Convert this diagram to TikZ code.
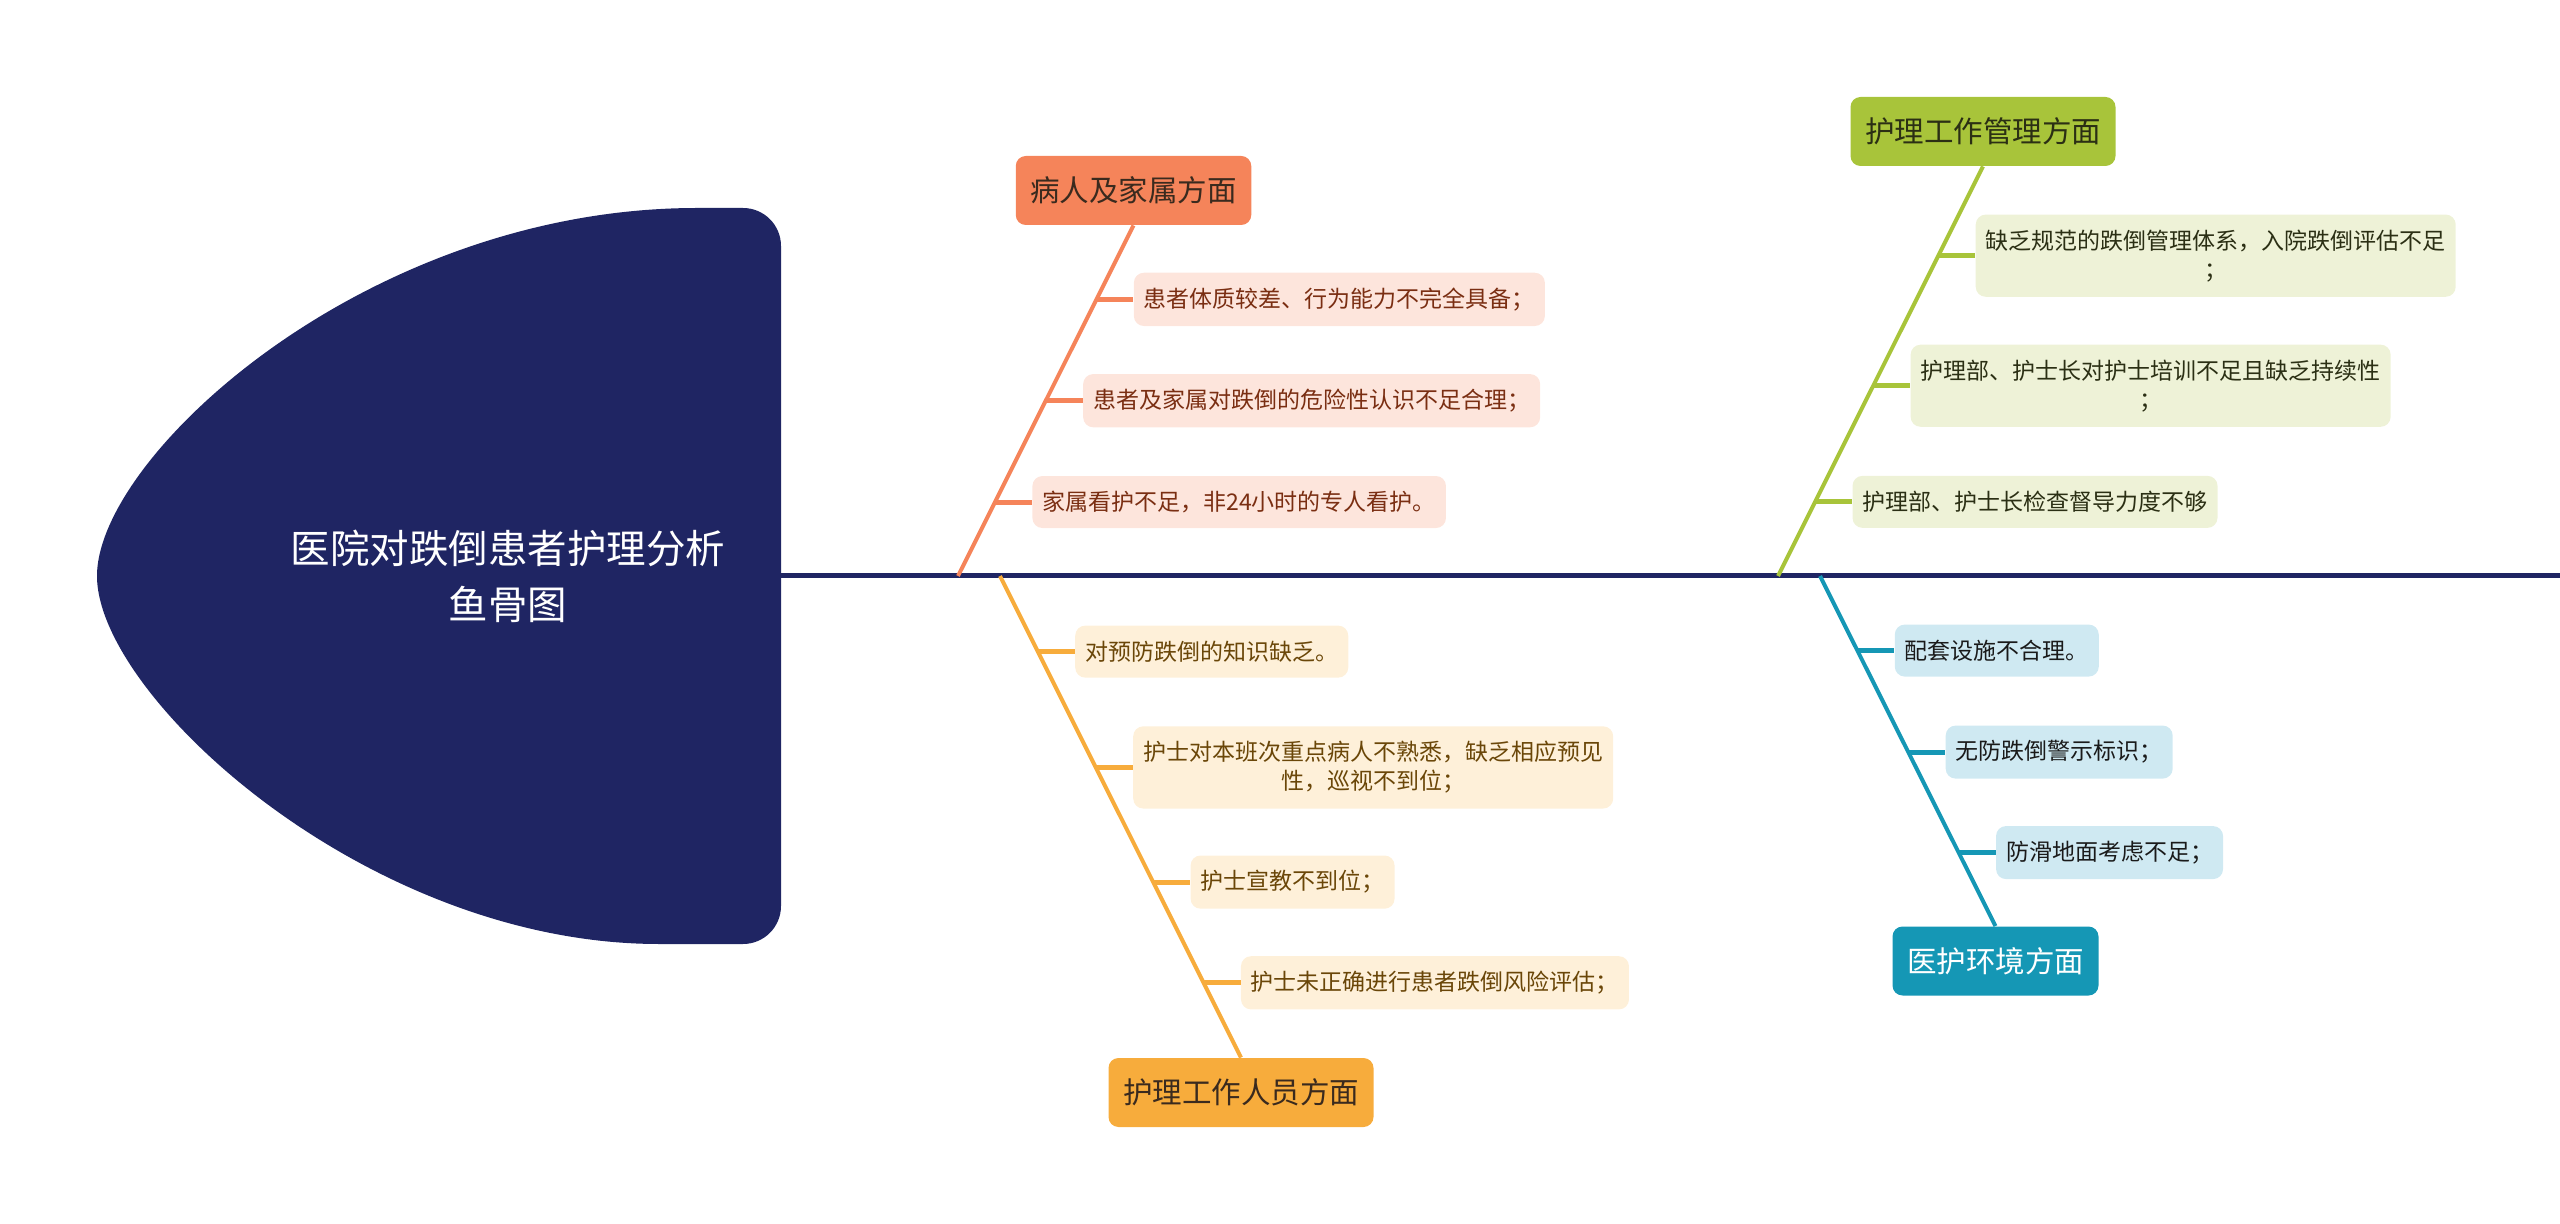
\documentclass[tikz,border=0pt]{standalone}
\usepackage{fontspec}
\usepackage{tikz}
\usetikzlibrary{positioning}
\usetikzlibrary{calc}
\setmainfont{Noto Sans CJK SC}

\definecolor{navy}{HTML}{1F2563}
\definecolor{hdcoral}{HTML}{F5845A}
\definecolor{bgcoral}{HTML}{FDE5DC}
\definecolor{txcoral}{HTML}{7A2E12}
\definecolor{hdamber}{HTML}{F7AC3C}
\definecolor{bgamber}{HTML}{FEF0D9}
\definecolor{txamber}{HTML}{6A4608}
\definecolor{hdgreen}{HTML}{A8C43A}
\definecolor{bggreen}{HTML}{EEF2D7}
\definecolor{txgreen}{HTML}{2B2F14}
\definecolor{hdteal}{HTML}{1597B5}
\definecolor{bgteal}{HTML}{CFE9F2}
\definecolor{txteal}{HTML}{1A1A1A}
\definecolor{txdark}{HTML}{3A2A1E}

\tikzset{
  cause/.style={rounded corners=5pt, minimum height=34.5pt, inner xsep=7.25pt, font=\fontsize{14.75}{18}\selectfont},
  detail/.style={rounded corners=5pt, minimum height=26pt, inner xsep=5pt, inner ysep=7.5pt, align=center, font=\fontsize{11.5}{14.5}\selectfont},
  bone/.style={line width=2pt},
  stub/.style={line width=2.5pt}
}

\begin{document}
\begin{tikzpicture}[x=0.5pt,y=-0.5pt]
\useasboundingbox (0,0) rectangle (2560,1224);

\fill[navy] (97,576) .. controls (97,456) and (367,208) .. (697,208) [rounded corners=19pt] -- (781,208) -- (781,944) -- (697,944) [sharp corners] .. controls (367,944) and (97,696) .. (97,576) -- cycle;
\node[text=white, align=center, font=\fontsize{19.75}{28}\selectfont] (title) at (508,576) {医院对跌倒患者护理分析\\鱼骨图};

\coordinate (neck) at (781,576);
\coordinate (tail) at (2560,576);
\draw[navy, line width=2.5pt] (neck) -- (tail);

\node[cause, fill=hdcoral, text=txdark] (c1) at (1133.5,190.5) {病人及家属方面};
\node[cause, fill=hdamber, text=txdark] (c2) at (1241,1092.5) {护理工作人员方面};
\node[cause, fill=hdgreen, text=txgreen] (c3) at (1983,131.5) {护理工作管理方面};
\node[cause, fill=hdteal, text=white] (c4) at (1995.5,961) {医护环境方面};

\coordinate (s1) at (958,576);
\coordinate (s2) at (1000,576);
\coordinate (s3) at (1778,576);
\coordinate (s4) at (1820,576);
\draw[bone, hdcoral] (c1.south) -- (s1);
\draw[bone, hdamber] (c2.north) -- (s2);
\draw[bone, hdgreen] (c3.south) -- (s3);
\draw[bone, hdteal] (c4.north) -- (s4);

\coordinate (b11) at ($(s1)!0.789!(c1.south)$);
\coordinate (b12) at ($(s1)!0.5!(c1.south)$);
\coordinate (b13) at ($(s1)!0.211!(c1.south)$);
\node[detail, fill=bgcoral, text=txcoral, right=18.5pt of b11] (d11) {患者体质较差、行为能力不完全具备；};
\node[detail, fill=bgcoral, text=txcoral, right=18.5pt of b12] (d12) {患者及家属对跌倒的危险性认识不足合理；};
\node[detail, fill=bgcoral, text=txcoral, right=18.5pt of b13] (d13) {家属看护不足，非24小时的专人看护。};
\draw[stub, hdcoral] (b11) -- (d11);
\draw[stub, hdcoral] (b12) -- (d12);
\draw[stub, hdcoral] (b13) -- (d13);

\coordinate (b21) at ($(s2)!0.157!(c2.north)$);
\coordinate (b22) at ($(s2)!0.3975!(c2.north)$);
\coordinate (b23) at ($(s2)!0.6356!(c2.north)$);
\coordinate (b24) at ($(s2)!0.8447!(c2.north)$);
\node[detail, fill=bgamber, text=txamber, right=18.5pt of b21] (d21) {对预防跌倒的知识缺乏。};
\node[detail, fill=bgamber, text=txamber, right=18.5pt of b22] (d22) {护士对本班次重点病人不熟悉，缺乏相应预见\\性，巡视不到位；};
\node[detail, fill=bgamber, text=txamber, right=18.5pt of b23] (d23) {护士宣教不到位；};
\node[detail, fill=bgamber, text=txamber, right=18.5pt of b24] (d24) {护士未正确进行患者跌倒风险评估；};
\draw[stub, hdamber] (b21) -- (d21);
\draw[stub, hdamber] (b22) -- (d22);
\draw[stub, hdamber] (b23) -- (d23);
\draw[stub, hdamber] (b24) -- (d24);

\coordinate (b31) at ($(s3)!0.782!(c3.south)$);
\coordinate (b32) at ($(s3)!0.4645!(c3.south)$);
\coordinate (b33) at ($(s3)!0.181!(c3.south)$);
\node[detail, fill=bggreen, text=txgreen, right=18.5pt of b31] (d31) {缺乏规范的跌倒管理体系，入院跌倒评估不足\\；};
\node[detail, fill=bggreen, text=txgreen, right=18.5pt of b32] (d32) {护理部、护士长对护士培训不足且缺乏持续性\\；};
\node[detail, fill=bggreen, text=txgreen, right=18.5pt of b33] (d33) {护理部、护士长检查督导力度不够};
\draw[stub, hdgreen] (b31) -- (d31);
\draw[stub, hdgreen] (b32) -- (d32);
\draw[stub, hdgreen] (b33) -- (d33);

\coordinate (b41) at ($(s4)!0.213!(c4.north)$);
\coordinate (b42) at ($(s4)!0.503!(c4.north)$);
\coordinate (b43) at ($(s4)!0.79!(c4.north)$);
\node[detail, fill=bgteal, text=txteal, right=18.5pt of b41] (d41) {配套设施不合理。};
\node[detail, fill=bgteal, text=txteal, right=18.5pt of b42] (d42) {无防跌倒警示标识；};
\node[detail, fill=bgteal, text=txteal, right=18.5pt of b43] (d43) {防滑地面考虑不足；};
\draw[stub, hdteal] (b41) -- (d41);
\draw[stub, hdteal] (b42) -- (d42);
\draw[stub, hdteal] (b43) -- (d43);
\end{tikzpicture}
\end{document}
